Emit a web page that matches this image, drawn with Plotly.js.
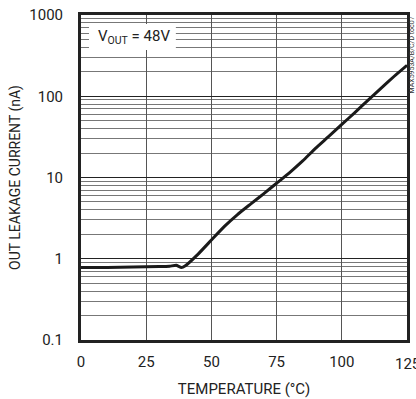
<!DOCTYPE html>
<html>
<head>
<meta charset="utf-8">
<script src="https://cdn.plot.ly/plotly-3.0.1.min.js"></script>
<style>html,body{margin:0;padding:0;background:#fff;}#chart{width:416px;height:399px;}</style>
</head>
<body>
<div id="chart"></div>
<script>
const temperature = [0, 10, 20, 30, 34, 36.5, 38.5, 40, 45, 50, 55, 60, 65, 70, 75, 80, 85, 90, 95, 100, 105, 110, 115, 120, 125];
const leakage = [0.78, 0.78, 0.79, 0.80, 0.81, 0.83, 0.78, 0.82, 1.15, 1.7, 2.5, 3.5, 4.7, 6.3, 8.5, 11.5, 16, 23, 32, 45, 63, 89, 125, 175, 240];
const xTicks = [0, 25, 50, 75, 100];
const xLastTick = 125;
const yTicks = [0.1, 1, 10, 100, 1000];
const yTickLabels = ['0.1', '1', '10', '100', '1000'];
const yMinor = [];
[0.1, 1, 10, 100].forEach(d => { for (let k = 2; k <= 9; k++) yMinor.push(d * k); });

const FONT = 'Roboto, "Liberation Sans", sans-serif';

const data = [{
  x: temperature, y: leakage, type: 'scatter', mode: 'lines',
  line: {color: '#1a1a1a', width: 3, shape: 'spline', smoothing: 0.4},
  hoverinfo: 'none'
}];

const layout = {
  width: 416, height: 399,
  margin: {l: 81, r: 9, t: 15, b: 59},
  paper_bgcolor: '#fff', plot_bgcolor: '#fff',
  showlegend: false,
  font: {family: FONT, size: 14, color: '#222'},
  xaxis: {
    range: [0, 125], tickvals: xTicks, ticktext: xTicks.map(String),
    showgrid: true, gridcolor: '#555', gridwidth: 1,
    zeroline: false, showline: true, linecolor: '#222', linewidth: 3, mirror: true,
    ticks: '', ticklen: 0, ticklabelstandoff: 6,
    tickfont: {family: FONT, size: 15, color: '#222'},
    title: {text: 'TEMPERATURE (°C)', font: {family: FONT, size: 15, color: '#222'}, standoff: 14},
    fixedrange: true
  },
  yaxis: {
    type: 'log', range: [-1, 3], tickvals: yTicks, ticktext: yTickLabels,
    showgrid: true, gridcolor: '#222', gridwidth: 1,
    minor: {tickvals: yMinor, showgrid: true, gridcolor: '#777', gridwidth: 1, ticks: ''},
    zeroline: false, showline: true, linecolor: '#222', linewidth: 3, mirror: true,
    ticks: '', ticklen: 0, ticklabelstandoff: 12,
    tickfont: {family: FONT, size: 15, color: '#222'},
    title: {text: 'OUT LEAKAGE CURRENT (nA)', font: {family: FONT, size: 14, color: '#222'}, standoff: 6},
    fixedrange: true
  },
  shapes: [{
    type: 'rect', xref: 'paper', yref: 'paper', layer: 'above',
    x0: 0.0245, x1: 0.291, y0: 0.892, y1: 0.972,
    fillcolor: '#fff', line: {width: 0}
  }],
  annotations: [{
    xref: 'paper', yref: 'paper', x: 0.045, y: 0.932, xanchor: 'left', yanchor: 'middle',
    text: 'V<sub>OUT</sub> = 48V', showarrow: false,
    font: {family: FONT, size: 15, color: '#222'}
  }, {
    xref: 'x', yref: 'paper', x: xLastTick, y: 0, yshift: -13, xanchor: 'center', yanchor: 'top',
    text: String(xLastTick), showarrow: false,
    font: {family: FONT, size: 15, color: '#222'}
  }, {
    xref: 'paper', yref: 'paper', x: 1.0, y: 1.0, xshift: 4, xanchor: 'center', yanchor: 'top',
    text: 'MAX5953A/B/C/D toc07', showarrow: false, textangle: -90,
    font: {family: FONT, size: 7, color: '#333'}
  }]
};

Plotly.newPlot('chart', data, layout, {staticPlot: true, displayModeBar: false});
</script>
</body>
</html>
